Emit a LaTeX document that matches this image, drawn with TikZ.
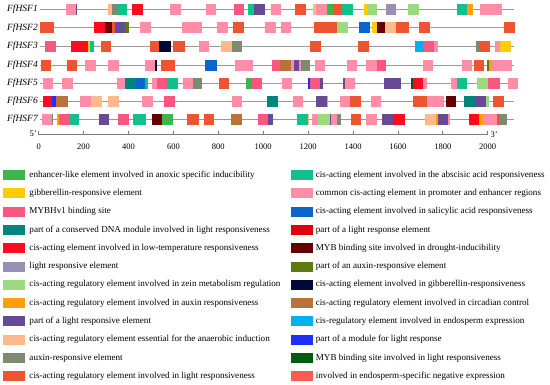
\documentclass[tikz,border=0pt]{standalone}
\usepackage{fontspec}
\setmainfont{Liberation Serif}
\definecolor{AN}{HTML}{3DB54A}
\definecolor{GB}{HTML}{FFCC00}
\definecolor{MH}{HTML}{F9577F}
\definecolor{CD}{HTML}{00857A}
\definecolor{LT}{HTML}{FF0A1E}
\definecolor{LR}{HTML}{9890B4}
\definecolor{ZE}{HTML}{9BDB7E}
\definecolor{AX}{HTML}{FFA00A}
\definecolor{PL}{HTML}{674A96}
\definecolor{AE}{HTML}{FFB98B}
\definecolor{AR}{HTML}{7E8A6F}
\definecolor{LI}{HTML}{EE5431}
\definecolor{AB}{HTML}{12C08E}
\definecolor{CM}{HTML}{FF8DA8}
\definecolor{SA}{HTML}{0A66CC}
\definecolor{PR}{HTML}{E00010}
\definecolor{MD}{HTML}{650000}
\definecolor{PA}{HTML}{5E7812}
\definecolor{GR}{HTML}{000837}
\definecolor{CC}{HTML}{B8723A}
\definecolor{EN}{HTML}{00B0F0}
\definecolor{MO}{HTML}{1E2EFF}
\definecolor{ML}{HTML}{005A0F}
\definecolor{EX}{HTML}{FF5A52}
\definecolor{genegray}{HTML}{9A9A9A}
\begin{document}
\begin{tikzpicture}[x=1pt,y=-1pt,
  geneline/.style={genegray,line width=1pt},
  genelabel/.style={anchor=east,inner sep=0pt,font=\fontsize{9.5}{10}\selectfont\itshape},
  axisline/.style={genegray!80!black,line width=0.8pt},
  ticklabel/.style={inner sep=0pt,font=\fontsize{8.5}{9}\selectfont},
  legtext/.style={anchor=west,inner sep=0pt,font=\fontsize{9.1}{10}\selectfont},
  swatch/.style={minimum width=22pt,minimum height=10pt,inner sep=0pt,draw=none}]
\useasboundingbox (0,0) rectangle (550,384);
% gene rows
\foreach \i/\y in {1/9.5,2/27.7,3/46.5,4/65,5/83,6/101,7/119.5}{
  \node[genelabel] (g\i) at (38,\y) {FfHSF\i};
  \coordinate (s\i) at (40,\y);
  \coordinate (e\i) at (514,\y);
  \draw[geneline] (s\i) -- (e\i);
}
\newcommand{\elems}[2]{\foreach \a/\b/\c in {#2}{\fill[\c] (\a,#1-5.5) rectangle (\b,#1+5.5);}}
\elems{9.5}{66/76/CM,76/77.3/PL,107.7/112/AE,112/116.7/AR,116.7/126.7/AB,132/143/LT,170/181/CM,206/216/CM,234/244/MH,247.7/254/AB,254/265/PL,270.5/281/CM,295/305.5/LI,312.7/316/AE,316/326.7/CM,326.7/332.7/AN,332.7/341.7/LI,341.7/352.7/AB,364/366.7/GB,366.7/377.3/ZE,385.7/396/LR,408/418.7/ZE,456.7/467.3/AB,467.3/472.7/AX,480/491/CM,491/501.7/CM}
\elems{27.7}{40/54.3/LI,94.3/105.3/LT,105.3/112.3/MD,112.3/115/LI,115/125/PL,125/129.3/PA,140.3/150.7/CM,182/192/CM,192/202.3/CM,217.3/228/CM,233/243.7/LI,265/275.7/CM,281/291.3/CM,314/336.7/LI,336.7/348.3/ZE,359.3/370/SA,371.7/376.7/GB,376.7/385/MD,385/396/AE,396/409/LI,419.3/430/LI,503.7/515/LI}
\elems{46.5}{45.3/55.7/MH,71.3/88.3/LT,88.3/90/GB,90/94.3/AB,101/111.3/LI,150/159.3/LI,159.3/171/GR,173.3/185/LI,199.3/209.3/CM,221/231.7/AE,231.7/242/AR,310/320.7/LI,358/368.7/LI,415.3/423.3/EN,423.3/434/MH,434/438.3/CM,476/479.3/AR,479.3/490/LI,495.3/500/CM,500/510.7/GB}
\elems{65}{40.7/50.7/LI,66.7/77.3/LI,85/95.7/CM,108.3/119/CM,145/155/CM,155/156.7/GR,160.7/175/LI,205.3/216.7/SA,235/253.3/CM,271.7/280/MH,280/291/CC,291/294.3/CM,294.3/299.3/PL,299.3/301/CM,301/310/AR,315/325/CM,347/357.3/CM,366.3/376.7/CM,376.7/386/MH,422.7/432.7/CM,461.7/471.7/CM,474/484/LI,487.3/489/PA,489/491.7/AX,491.7/501.7/CM,501.7/512.3/CM}
\elems{83}{43.3/53.3/CM,61.7/72.7/CM,116.7/125/CM,125/136/CD,136/145/SA,145/147.7/AB,151.7/156.7/CM,156.7/167.3/MH,167.3/177.7/AB,183.3/193.3/CM,193.3/201.7/AR,218.7/229.3/LI,246/252.3/AN,252.3/262.3/MH,282.3/292.3/CM,308.3/310/MO,310/320/MH,320/322.7/PL,343.3/345/PL,345/355/CM,384.3/401/PL,410.7/412.7/ML,412.7/423.3/LT,423.3/426.7/CM,451/457.3/CM,457.3/467.3/AB,476.7/488.3/ZE,488.3/500/MH,507.7/518.3/CM}
\elems{101}{43.3/51.7/LT,51.7/56/MO,56/67.7/CC,80/90.7/CM,90.7/101.7/AE,108.3/119.3/AE,141.7/152.7/CM,164/175/MH,231.7/242.3/CM,267.3/278.3/CD,292.7/303.3/CM,315.7/326.7/PL,326.7/328/CM,340/350/CM,350/360.7/LI,370.7/381/CM,413.3/427.3/LI,427.3/444.3/CM,445.7/456/MD,464.3/475/CD,475/486/PL,486/489.3/ZE,493.3/504/LI}
\elems{119.5}{41.7/51.7/CM,51.7/53.3/AR,57.3/59.3/AX,59.3/70/MH,70/79/AB,98.7/109.3/PL,117.7/128.7/MH,132.7/146/AB,151.7/162.3/MD,162.3/172.7/AN,187/199/LI,203.7/214/LI,231/242/CC,257.7/268.3/MH,268.3/273.3/PL,297.3/307.7/AB,307.7/309.3/AE,312.3/318.3/CM,318.3/330/ZE,330/331/PL,331/336.7/CM,336.7/341/AR,350.7/361/LI,366.3/376.7/CM,381.7/392.7/PL,392.7/405/LT,425/435.7/AE,435.7/438.3/AX,438.3/448.3/PL,448.3/450/CM,469/479/LT,479/483.3/AX,483.3/486.7/CM,486.7/496.7/CM,496.7/499/LI,499/506.7/AR}
% axis
\coordinate (a0) at (38.7,134.7);
\coordinate (a1) at (487.7,134.7);
\draw[axisline] (a0) -- (a1);
\foreach \k in {0,...,10}{
  \pgfmathsetmacro{\xx}{38.7+44.9*\k}
  \pgfmathtruncatemacro{\lab}{200*\k}
  \draw[axisline] (\xx,134.7) -- (\xx,131);
  \node[ticklabel] (t\k) at (\xx,147) {\lab};
}
\node[ticklabel,anchor=east] (five) at (37,134) {5'};
\node[ticklabel,anchor=west] (three) at (490.5,135) {3'};
% legend
\foreach \c/\t [count=\i from 0] in {AN/enhancer-like element involved in anoxic specific inducibility,GB/gibberellin-responsive element,MH/MYBHv1 binding site,CD/part of a conserved DNA module involved in light responsiveness,LT/cis-acting element involved in low-temperature responsiveness,LR/light responsive element,ZE/cis-acting regulatory element involved in zein metabolism regulation,AX/cis-acting regulatory element involved in auxin responsiveness,PL/part of a light responsive element,AE/cis-acting regulatory element essential for the anaerobic induction,AR/auxin-responsive element,LI/cis-acting regulatory element involved in light responsiveness}{
  \pgfmathsetmacro{\yy}{175+18.3*\i}
  \node[swatch,fill=\c] (ls\i) at (14.2,\yy) {};
  \node[legtext] (lt\i) at (29.3,\yy) {\t};
}
\foreach \c/\t [count=\i from 0] in {AB/cis-acting element involved in the abscisic acid responsiveness,CM/common cis-acting element in promoter and enhancer regions,SA/cis-acting element involved in salicylic acid responsiveness,PR/part of a light response element,MD/MYB binding site involved in drought-inducibility,PA/part of an auxin-responsive element,GR/cis-acting element involved in gibberellin-responsiveness,CC/cis-acting regulatory element involved in circadian control,EN/cis-regulatory element involved in endosperm expression,MO/part of a module for light response,ML/MYB binding site involved in light responsiveness,EX/involved in endosperm-specific negative expression}{
  \pgfmathsetmacro{\yy}{175+18.3*\i}
  \node[swatch,fill=\c] (rs\i) at (301.7,\yy) {};
  \node[legtext] (rt\i) at (315.7,\yy) {\t};
}
\end{tikzpicture}
\end{document}
